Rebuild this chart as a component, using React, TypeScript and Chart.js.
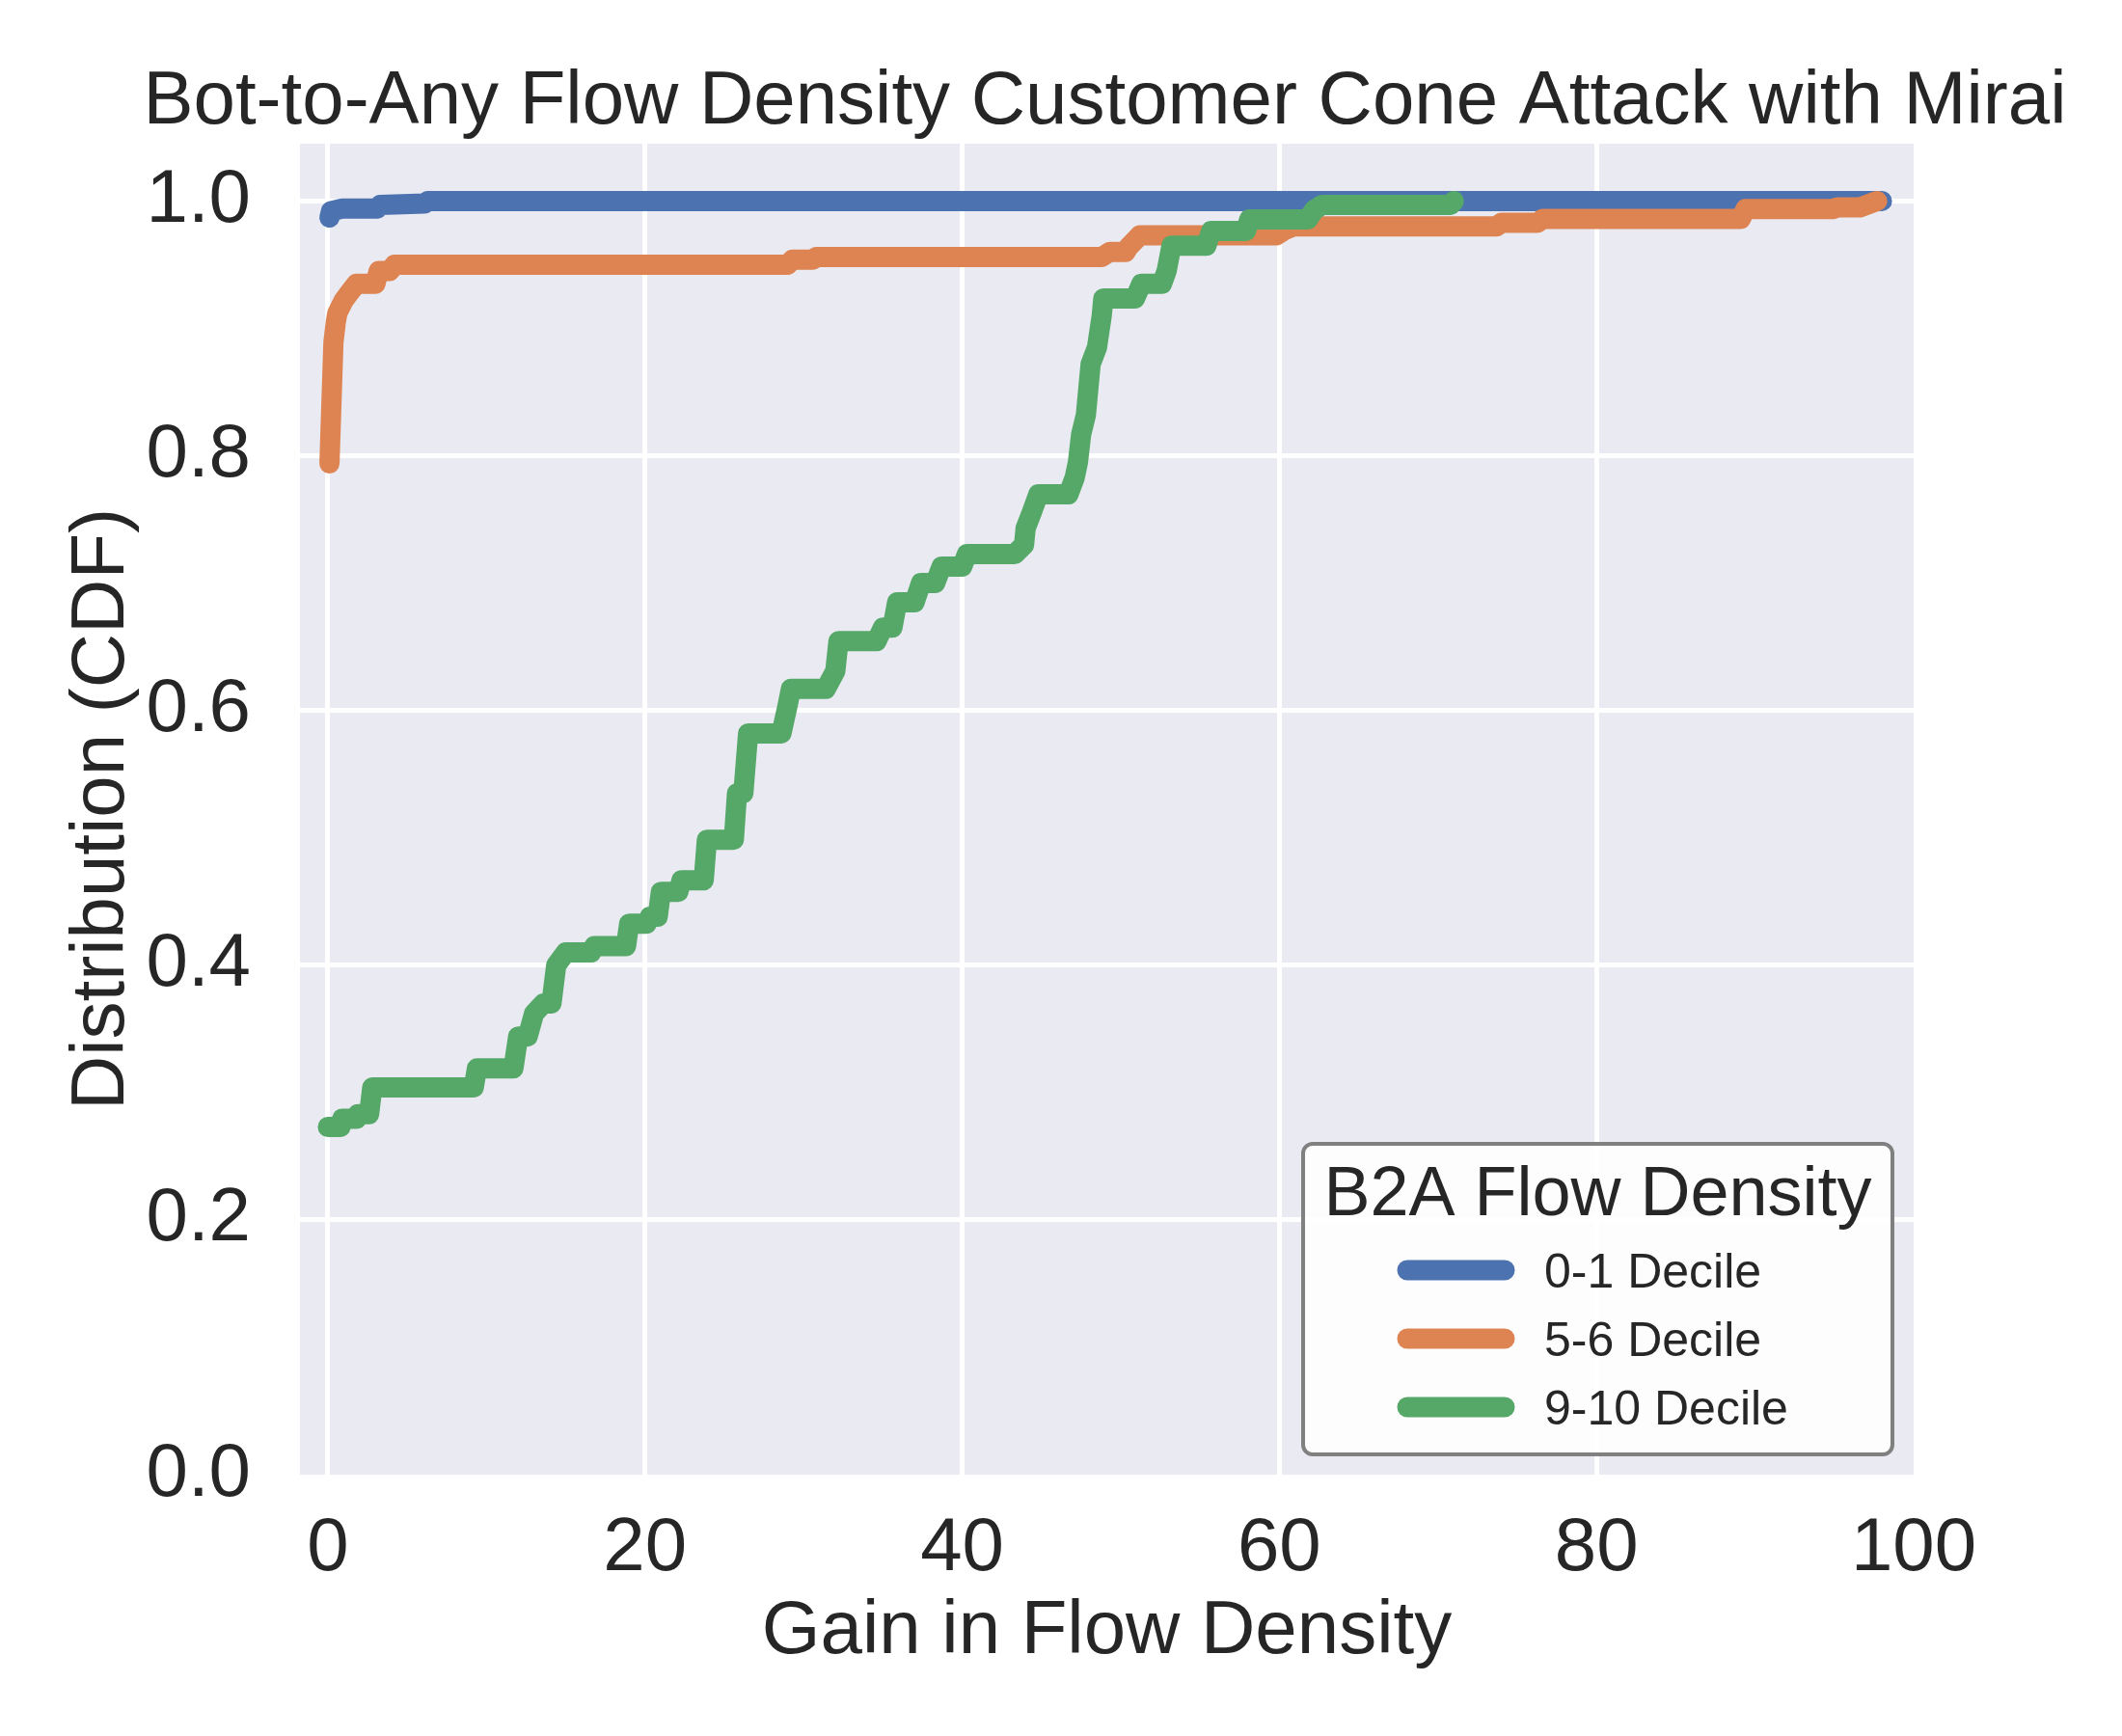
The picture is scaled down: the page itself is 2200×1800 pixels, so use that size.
import { useEffect, useRef } from 'react';
import { Chart, ChartConfiguration, Plugin, registerables } from 'chart.js';

Chart.register(...registerables);

const FONT = '"Liberation Sans", Arial, Helvetica, sans-serif';
const TEXT = '#262626';

const chartTitle = 'Bot-to-Any Flow Density Customer Cone Attack with Mirai';
const xAxisLabel = 'Gain in Flow Density';
const yAxisLabel = 'Distribution (CDF)';
const legendTitle = 'B2A Flow Density';

const seriesLabels = ['0-1 Decile', '5-6 Decile', '9-10 Decile'];
const seriesColors = ['#4C72B0', '#DD8452', '#55A868'];

const xTicks = [0, 20, 40, 60, 80, 100];
const yTicks = [0, 0.2, 0.4, 0.6, 0.8, 1.0];

// 0-1 decile
const lowX = [0.1, 0.2, 0.9, 3.1, 3.3, 6.1, 6.3, 98.0];
const lowY = [0.987, 0.992, 0.994, 0.994, 0.997, 0.998, 1.0, 1.0];

// 5-6 decile
const midX = [0.1, 0.35, 0.5, 0.6, 1.0, 1.3, 1.8, 3.0, 3.2, 3.9, 4.2, 29.0, 29.3, 30.6, 30.8, 48.8, 49.3, 50.3, 50.5, 51.2, 59.8, 60.3, 60.9, 73.7, 74.0, 76.3, 76.6, 89.1, 89.4, 94.9, 95.2, 96.6, 97.7];
const midY = [0.794, 0.889, 0.905, 0.912, 0.922, 0.927, 0.935, 0.935, 0.945, 0.945, 0.950, 0.950, 0.954, 0.954, 0.956, 0.956, 0.960, 0.960, 0.964, 0.973, 0.973, 0.977, 0.980, 0.980, 0.983, 0.983, 0.986, 0.986, 0.9937, 0.9937, 0.995, 0.995, 1.0];

// 9-10 decile
const highX = [0, 0.8, 0.9, 1.8, 1.9, 2.6, 2.8, 9.2, 9.4, 11.7, 12.0, 12.6, 13.0, 13.6, 14.1, 14.4, 15.0, 16.6, 16.8, 18.8, 19.0, 20.1, 20.3, 20.8, 21.0, 22.1, 22.3, 23.7, 23.9, 25.6, 25.8, 26.2, 26.5, 28.6, 29.0, 29.2, 31.4, 32.0, 32.2, 34.6, 35.0, 35.6, 35.9, 37.0, 37.4, 38.3, 38.7, 40.0, 40.3, 43.3, 43.9, 44.0, 44.4, 44.8, 46.7, 47.1, 47.3, 47.5, 47.8, 48.1, 48.5, 48.8, 48.9, 50.9, 51.3, 52.6, 52.9, 53.2, 55.4, 55.7, 57.9, 58.1, 61.8, 62.2, 62.7, 70.8, 71.0];
const highY = [0.273, 0.273, 0.2795, 0.2795, 0.283, 0.283, 0.304, 0.304, 0.319, 0.319, 0.344, 0.344, 0.362, 0.37, 0.37, 0.40, 0.41, 0.41, 0.415, 0.415, 0.4326, 0.4326, 0.438, 0.438, 0.4576, 0.4576, 0.4667, 0.4667, 0.4985, 0.4985, 0.535, 0.535, 0.582, 0.582, 0.6045, 0.617, 0.617, 0.631, 0.6545, 0.6545, 0.665, 0.665, 0.685, 0.685, 0.70, 0.70, 0.713, 0.713, 0.7227, 0.7227, 0.730, 0.743, 0.756, 0.7697, 0.7697, 0.783, 0.795, 0.8167, 0.832, 0.872, 0.885, 0.91, 0.9235, 0.9235, 0.935, 0.935, 0.9455, 0.965, 0.965, 0.9765, 0.9765, 0.9856, 0.9856, 0.993, 0.997, 0.997, 1.0];

const seriesX = [lowX, midX, highX];
const seriesY = [lowY, midY, highY];

const toPoints = (xs: number[], ys: number[]) => xs.map((x, i) => ({ x, y: ys[i] }));

const backgroundPlugin: Plugin = {
  id: 'darkgrid',
  beforeDraw(chart) {
    const { ctx, chartArea } = chart;
    ctx.save();
    ctx.fillStyle = '#ffffff';
    ctx.fillRect(0, 0, chart.width, chart.height);
    ctx.fillStyle = '#EAEAF2';
    ctx.fillRect(chartArea.left, chartArea.top, chartArea.right - chartArea.left, chartArea.bottom - chartArea.top);
    ctx.restore();
  },
};

const titlePlugin: Plugin = {
  id: 'plotTitle',
  afterDraw(chart) {
    const { ctx, chartArea } = chart;
    ctx.save();
    ctx.font = `78px ${FONT}`;
    ctx.fillStyle = TEXT;
    ctx.textAlign = 'center';
    ctx.textBaseline = 'alphabetic';
    ctx.fillText(chartTitle, (chartArea.left + chartArea.right) / 2 - 2, chartArea.top - 21);
    ctx.restore();
  },
};

const legendPlugin: Plugin = {
  id: 'boxLegend',
  afterDraw(chart) {
    const { ctx, chartArea } = chart;
    const w = 611;
    const h = 322;
    const right = chartArea.right - 22;
    const bottom = chartArea.bottom - 21;
    const left = right - w;
    const top = bottom - h;
    ctx.save();
    ctx.beginPath();
    ctx.roundRect(left, top, w, h, 10);
    ctx.fillStyle = 'rgba(255,255,255,0.9)';
    ctx.fill();
    ctx.lineWidth = 4;
    ctx.strokeStyle = '#808080';
    ctx.stroke();

    ctx.fillStyle = TEXT;
    ctx.font = `72px ${FONT}`;
    ctx.textAlign = 'center';
    ctx.textBaseline = 'alphabetic';
    ctx.fillText(legendTitle, left + w / 2, top + 74);

    ctx.font = `50px ${FONT}`;
    ctx.textAlign = 'left';
    chart.data.datasets.forEach((ds, i) => {
      const y = top + 131 + i * 71;
      ctx.beginPath();
      ctx.lineCap = 'round';
      ctx.lineWidth = 21;
      ctx.strokeStyle = ds.borderColor as string;
      ctx.moveTo(left + 108, y);
      ctx.lineTo(left + 209, y);
      ctx.stroke();
      ctx.fillStyle = TEXT;
      ctx.fillText(ds.label as string, left + 250, y + 18);
    });
    ctx.restore();
  },
};

export default function App() {
  const canvasRef = useRef<HTMLCanvasElement>(null);
  const chartRef = useRef<Chart | null>(null);

  useEffect(() => {
    if (!canvasRef.current) return;
    if (chartRef.current) chartRef.current.destroy();

    const config: ChartConfiguration<'line'> = {
      type: 'line',
      data: {
        datasets: seriesLabels.map((label, i) => ({
          label,
          data: toPoints(seriesX[i], seriesY[i]),
          borderColor: seriesColors[i],
          backgroundColor: seriesColors[i],
          borderWidth: 21,
          borderJoinStyle: 'round',
          borderCapStyle: 'round',
          pointRadius: 0,
          tension: 0,
          fill: false,
          order: seriesLabels.length - i,
        })),
      },
      options: {
        animation: false,
        responsive: false,
        devicePixelRatio: 1,
        layout: { padding: { top: 149, right: 216, left: 0, bottom: 0 } },
        plugins: {
          legend: { display: false },
          title: { display: false },
          tooltip: { enabled: false },
        },
        scales: {
          x: {
            type: 'linear',
            min: -1.76,
            max: 100,
            afterBuildTicks: (scale) => {
              scale.ticks = xTicks.map((value) => ({ value }));
            },
            afterFit: (scale) => {
              scale.height = 271;
            },
            ticks: {
              color: TEXT,
              font: { family: FONT, size: 78 },
              padding: 31,
              maxRotation: 0,
              callback: (v) => String(Math.round(Number(v))),
            },
            grid: {
              color: (c) => (c.tick && c.tick.value === 100 ? 'rgba(0,0,0,0)' : '#ffffff'),
              lineWidth: 5,
              drawTicks: false,
            },
            border: { display: false },
            title: {
              display: true,
              text: xAxisLabel,
              color: TEXT,
              font: { family: FONT, size: 78, lineHeight: 1.2 },
              padding: { top: 0, bottom: 61 },
            },
          },
          y: {
            type: 'linear',
            min: 0,
            max: 1.045,
            afterBuildTicks: (scale) => {
              scale.ticks = yTicks.map((value) => ({ value }));
            },
            afterFit: (scale) => {
              scale.width = 311;
            },
            ticks: {
              color: TEXT,
              font: { family: FONT, size: 78 },
              padding: 51,
              callback: (v) => Number(v).toFixed(1),
            },
            grid: {
              color: (c) => (c.tick && c.tick.value === 0 ? 'rgba(0,0,0,0)' : '#ffffff'),
              lineWidth: 5,
              drawTicks: false,
            },
            border: { display: false },
            title: {
              display: true,
              text: yAxisLabel,
              color: TEXT,
              font: { family: FONT, size: 78, lineHeight: 1.2 },
              padding: { top: 60, bottom: 0 },
            },
          },
        },
      },
      plugins: [backgroundPlugin, titlePlugin, legendPlugin],
    };

    chartRef.current = new Chart(canvasRef.current, config);

    return () => {
      if (chartRef.current) {
        chartRef.current.destroy();
        chartRef.current = null;
      }
    };
  }, []);

  return (
    <div style={{ position: 'absolute', left: 0, top: 0, width: 2200, height: 1800, background: '#ffffff' }}>
      <canvas ref={canvasRef} width={2200} height={1800} style={{ width: 2200, height: 1800 }}></canvas>
    </div>
  );
}
